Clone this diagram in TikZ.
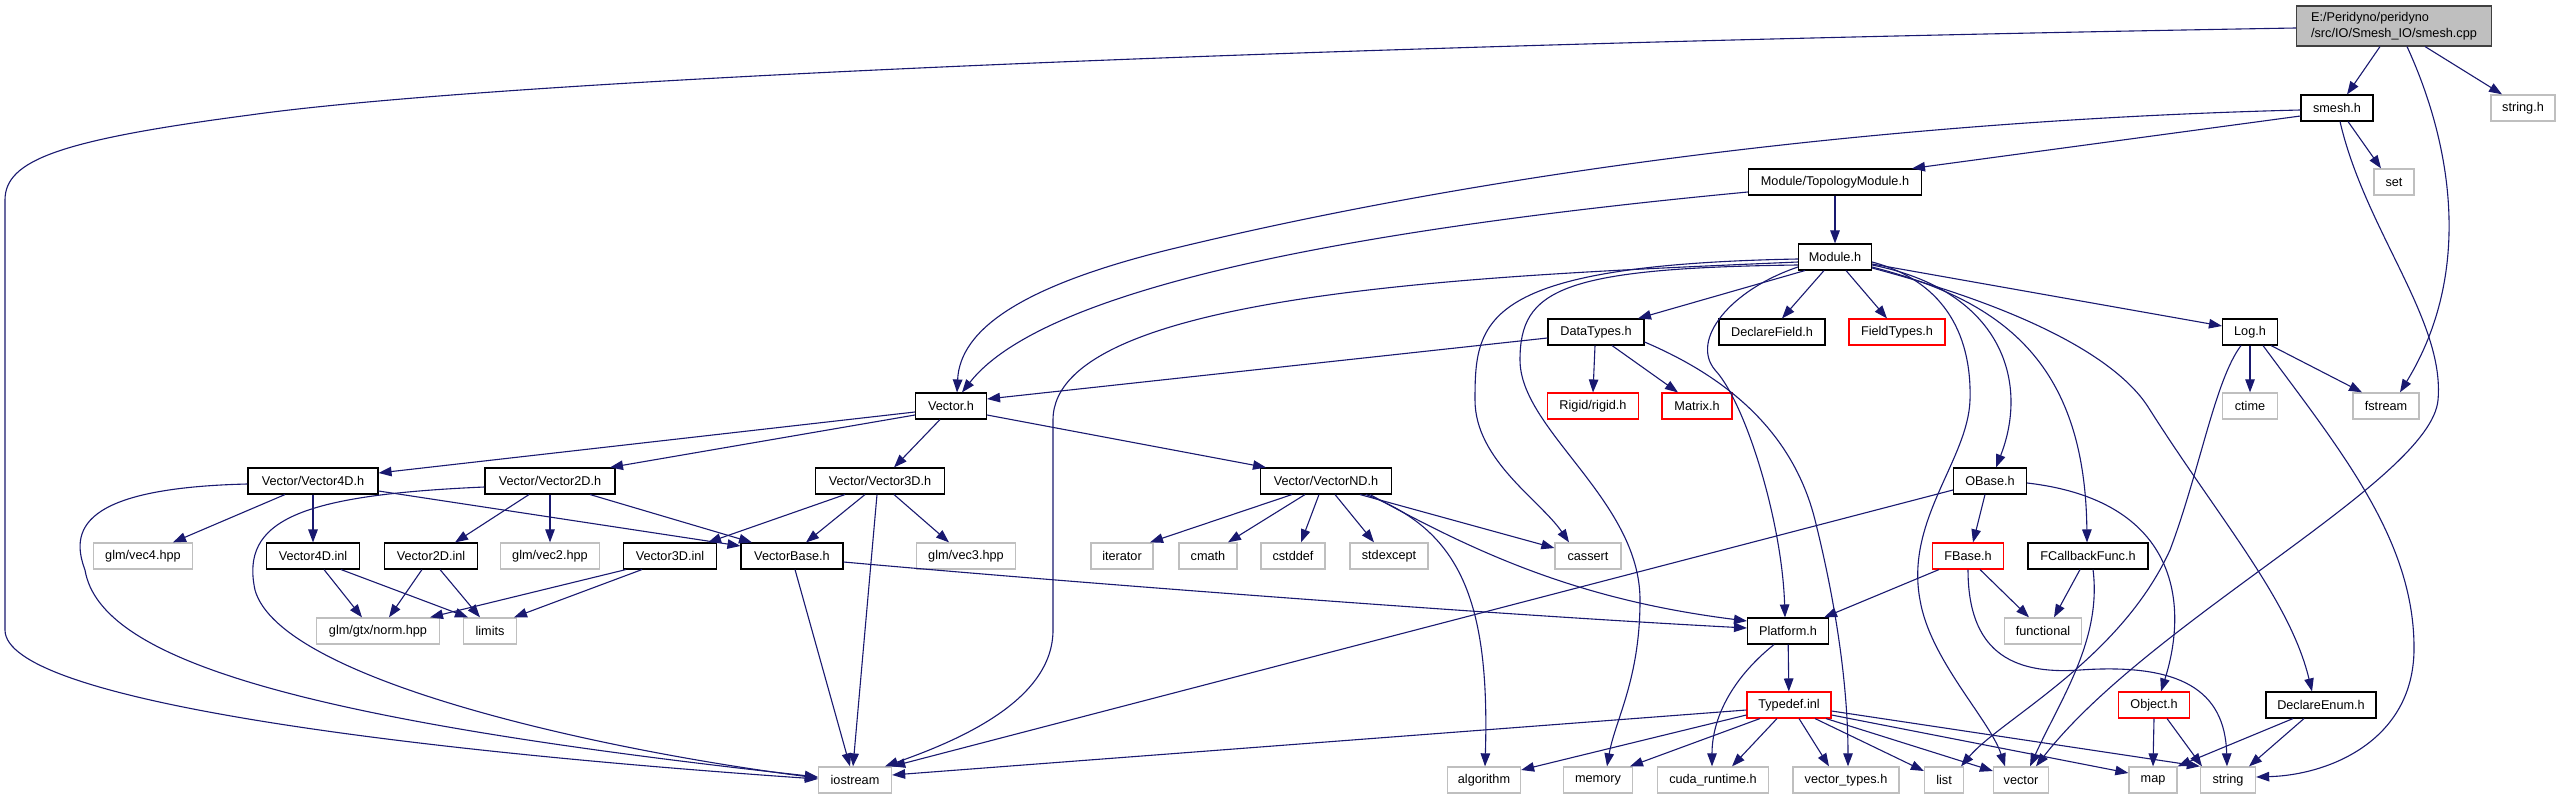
\documentclass[tikz,border=0pt]{standalone}
\usepackage{fontspec}
\setmainfont{Liberation Sans}
\usetikzlibrary{arrows.meta}
\definecolor{edgec}{HTML}{191970}
\definecolor{extc}{HTML}{BFBFBF}
\definecolor{mainfill}{HTML}{BFBFBF}
\definecolor{maindraw}{HTML}{404040}
\tikzset{
  box/.style={rectangle, inner sep=0pt, minimum height=26pt, fill=white, line width=1.1pt,
              font=\fontsize{12.7pt}{15.5pt}\selectfont},
  doc/.style={box, draw=black},
  ext/.style={box, draw=extc, line width=1.3pt},
  trunc/.style={box, draw=red},
  e/.style={draw=edgec, line width=1.1pt, -{Triangle[length=13pt,width=9.5pt]}},
}
\begin{document}
\begin{tikzpicture}[x=1pt,y=-1pt]
\useasboundingbox[fill=white] (0,0) rectangle (2561,799);
% nodes
\node[doc,minimum width=195pt,minimum height=40pt,fill=mainfill,draw=maindraw,align=left] (main) at (2394,26) {E:/Peridyno/peridyno\\/src/IO/Smesh\_IO/smesh.cpp};
\node[doc,minimum width=72pt] (smesh) at (2337,108) {smesh.h};
\node[ext,minimum width=64pt] (stringh) at (2523,108) {string.h};
\node[ext,minimum width=40pt] (set) at (2394,182) {set};
\node[doc,minimum width=173pt] (topo) at (1835,182) {Module/TopologyModule.h};
\node[doc,minimum width=73pt] (module) at (1835,257) {Module.h};
\node[doc,minimum width=96pt] (datatypes) at (1596,332) {DataTypes.h};
\node[doc,minimum width=106pt] (declfield) at (1772,332) {DeclareField.h};
\node[trunc,minimum width=96pt] (fieldtypes) at (1897,332) {FieldTypes.h};
\node[doc,minimum width=55pt] (log) at (2250,332) {Log.h};
\node[trunc,minimum width=91pt] (rigid) at (1593,406) {Rigid/rigid.h};
\node[trunc,minimum width=70pt] (matrix) at (1697,406) {Matrix.h};
\node[ext,minimum width=55pt] (ctime) at (2250,406) {ctime};
\node[ext,minimum width=66pt] (fstream) at (2386,406) {fstream};
\node[doc,minimum width=71pt] (vectorh) at (951,406) {Vector.h};
\node[doc,minimum width=130pt] (v4d) at (313,481) {Vector/Vector4D.h};
\node[doc,minimum width=130pt] (v2d) at (550,481) {Vector/Vector2D.h};
\node[doc,minimum width=129pt] (v3d) at (880,481) {Vector/Vector3D.h};
\node[doc,minimum width=131pt] (vnd) at (1326,481) {Vector/VectorND.h};
\node[doc,minimum width=73pt] (obase) at (1990,481) {OBase.h};
\node[ext,minimum width=99pt] (vec4) at (143,556) {glm/vec4.hpp};
\node[doc,minimum width=93pt] (v4inl) at (313,556) {Vector4D.inl};
\node[doc,minimum width=93pt] (v2inl) at (431,556) {Vector2D.inl};
\node[ext,minimum width=99pt] (vec2) at (550,556) {glm/vec2.hpp};
\node[doc,minimum width=93pt] (v3inl) at (670,556) {Vector3D.inl};
\node[doc,minimum width=102pt] (vbase) at (792,556) {VectorBase.h};
\node[ext,minimum width=99pt] (vec3) at (966,556) {glm/vec3.hpp};
\node[ext,minimum width=62pt] (iterator) at (1122,556) {iterator};
\node[ext,minimum width=58pt] (cmath) at (1208,556) {cmath};
\node[ext,minimum width=64pt] (cstddef) at (1293,556) {cstddef};
\node[ext,minimum width=78pt] (stdexcept) at (1389,556) {stdexcept};
\node[ext,minimum width=66pt] (cassert) at (1588,556) {cassert};
\node[trunc,minimum width=71pt] (fbase) at (1968,556) {FBase.h};
\node[doc,minimum width=120pt] (fcallback) at (2088,556) {FCallbackFunc.h};
\node[ext,minimum width=123pt] (norm) at (378,631) {glm/gtx/norm.hpp};
\node[ext,minimum width=53pt] (limits) at (490,631) {limits};
\node[doc,minimum width=81pt] (platform) at (1788,631) {Platform.h};
\node[ext,minimum width=77pt] (functional) at (2043,631) {functional};
\node[trunc,minimum width=84pt] (typedef) at (1789,705) {Typedef.inl};
\node[trunc,minimum width=71pt] (object) at (2154,705) {Object.h};
\node[doc,minimum width=110pt] (declenum) at (2321,705) {DeclareEnum.h};
\node[ext,minimum width=73pt] (iostream) at (855,780) {iostream};
\node[ext,minimum width=73pt] (algorithm) at (1484,780) {algorithm};
\node[ext,minimum width=69pt] (memory) at (1598,780) {memory};
\node[ext,minimum width=111pt] (cuda) at (1713,780) {cuda\_runtime.h};
\node[ext,minimum width=106pt] (vtypes) at (1846,780) {vector\_types.h};
\node[ext,minimum width=39pt] (list) at (1944,780) {list};
\node[ext,minimum width=55pt] (vectorstd) at (2021,780) {vector};
\node[ext,minimum width=48pt] (map) at (2153,780) {map};
\node[ext,minimum width=55pt] (string) at (2228,780) {string};
% edges from main
\draw[e] (main.west |- 0,28) .. controls (1300,45) and (500,80) .. (250,115) .. controls (60,140) and (5,160) .. (5,200) -- (5,630) .. controls (5,700) and (400,750) .. (iostream.west |- 0,779);
\draw[e] (main.south -| 2380,0) -- (smesh.north -| 2347,0);
\draw[e] (main.south -| 2425,0) -- (stringh.north -| 2502,0);
\draw[e] (main.south -| 2407,0) .. controls (2450,140) and (2475,270) .. (fstream.north -| 2400,0);
% smesh
\draw[e] (smesh.west |- 0,110) .. controls (1900,120) and (1500,170) .. (1180,247) .. controls (1020,285) and (960,330) .. (vectorh.north -| 957,0);
\draw[e] (smesh.west |- 0,116) -- (topo.north -| 1912,0);
\draw[e] (smesh.south -| 2348,0) -- (set.north -| 2381,0);
\draw[e] (smesh.south -| 2340,0) .. controls (2365,230) and (2445,320) .. (2438,400) .. controls (2431,480) and (2150,620) .. (vectorstd.north -| 2036,0);
% topology
\draw[e] (topo) -- (module);
\draw[e] (topo.west |- 0,192) .. controls (1400,225) and (1050,280) .. (vectorh.north -| 962,0);
% module
\draw[e] (module.south -| 1805,0) -- (datatypes.north -| 1638,0);
\draw[e] (module.south -| 1824,0) -- (declfield.north -| 1782,0);
\draw[e] (module.south -| 1846,0) -- (fieldtypes.north -| 1887,0);
\draw[e] (module.east |- 0,264) -- (log.west |- 0,326);
\draw[e] (module.west |- 0,262) .. controls (1500,275) and (1053,290) .. (1053,420) -- (1053,630) .. controls (1053,700) and (960,740) .. (iostream.north -| 885,0);
\draw[e] (module.west |- 0,259) .. controls (1480,265) and (1475,320) .. (1475,400) .. controls (1475,460) and (1540,500) .. (cassert.north -| 1569,0);
\draw[e] (module.west |- 0,265) .. controls (1560,268) and (1520,290) .. (1520,360) .. controls (1520,430) and (1640,500) .. (1640,600) .. controls (1640,680) and (1615,720) .. (memory.north -| 1607,0);
\draw[e] (module.west |- 0,267) .. controls (1730,290) and (1690,340) .. (1715,370) .. controls (1745,402) and (1782,520) .. (platform.north -| 1785,0);
\draw[e] (module.east |- 0,262) .. controls (1940,280) and (1972,330) .. (1970,400) .. controls (1968,460) and (1905,520) .. (1920,600) .. controls (1930,660) and (1990,720) .. (vectorstd.north -| 2005,0);
\draw[e] (module.east |- 0,265) .. controls (2000,290) and (2030,380) .. (obase.north -| 1996,0);
\draw[e] (module.east |- 0,267) .. controls (2000,300) and (2085,360) .. (fcallback.north -| 2087,0);
\draw[e] (module.east |- 0,268) .. controls (2030,310) and (2120,360) .. (2150,410) .. controls (2220,520) and (2290,600) .. (declenum.north -| 2312,0);
% datatypes
\draw[e] (datatypes.west |- 0,338) -- (vectorh.east |- 0,399);
\draw[e] (datatypes.south -| 1595,0) -- (rigid.north -| 1593,0);
\draw[e] (datatypes.south -| 1612,0) -- (matrix.north -| 1678,0);
\draw[e] (datatypes.east |- 0,342) .. controls (1710,370) and (1790,420) .. (1815,520) .. controls (1840,620) and (1848,700) .. (vtypes.north -| 1848,0);
% log
\draw[e] (log) -- (ctime);
\draw[e] (log.south -| 2271,0) -- (fstream.north -| 2362,0);
\draw[e] (log.south -| 2241,0) .. controls (2215,380) and (2200,470) .. (2170,550) .. controls (2120,660) and (2000,720) .. (list.north -| 1961,0);
\draw[e] (log.south -| 2263,0) .. controls (2340,450) and (2415,540) .. (2414,650) .. controls (2413,740) and (2330,775) .. (string.east |- 0,777);
% vector.h
\draw[e] (vectorh.west |- 0,412) -- (v4d.east |- 0,473);
\draw[e] (vectorh.west |- 0,415) -- (v2d.north -| 610,0);
\draw[e] (vectorh.south -| 940,0) -- (v3d.north -| 894,0);
\draw[e] (vectorh.east |- 0,415) -- (vnd.north -| 1266,0);
% vector4d / 2d
\draw[e] (v4d.west |- 0,484) .. controls (80,488) and (70,530) .. (85,570) .. controls (100,660) and (300,720) .. (iostream.west |- 0,777);
\draw[e] (v2d.west |- 0,487) .. controls (300,495) and (240,520) .. (255,590) .. controls (280,680) and (600,750) .. (iostream.west |- 0,778);
\draw[e] (v4d.south -| 285,0) -- (vec4.north -| 173,0);
\draw[e] (v4d.south -| 313,0) -- (v4inl.north -| 313,0);
\draw[e] (v4d.east |- 0,491) -- (vbase.west |- 0,546);
\draw[e] (v2d.south -| 529,0) -- (v2inl.north -| 455,0);
\draw[e] (v2d.south -| 550,0) -- (vec2.north -| 550,0);
\draw[e] (v2d.south -| 590,0) -- (vbase.north -| 752,0);
% inl files
\draw[e] (v4inl.south -| 324,0) -- (norm.north -| 362,0);
\draw[e] (v4inl.south -| 341,0) -- (limits.north -| 468,0);
\draw[e] (v2inl.south -| 422,0) -- (norm.north -| 389,0);
\draw[e] (v2inl.south -| 440,0) -- (limits.north -| 480,0);
\draw[e] (v3inl.south -| 626,0) -- (norm.north -| 430,0);
\draw[e] (v3inl.south -| 642,0) -- (limits.north -| 514,0);
% vectorbase
\draw[e] (vbase.south -| 795,0) -- (iostream.north -| 850,0);
\draw[e] (vbase.east |- 0,562) .. controls (1100,585) and (1500,615) .. (platform.west |- 0,628);
% vector3d
\draw[e] (v3d.south -| 877,0) -- (iostream.north -| 853,0);
\draw[e] (v3d.south -| 894,0) -- (vec3.north -| 949,0);
\draw[e] (v3d.south -| 845,0) -- (v3inl.north -| 708,0);
\draw[e] (v3d.south -| 865,0) -- (vbase.north -| 806,0);
% vectornd
\draw[e] (vnd.south -| 1292,0) -- (iterator.north -| 1150,0);
\draw[e] (vnd.south -| 1305,0) -- (cmath.north -| 1228,0);
\draw[e] (vnd.south -| 1319,0) -- (cstddef.north -| 1301,0);
\draw[e] (vnd.south -| 1335,0) -- (stdexcept.north -| 1374,0);
\draw[e] (vnd.south -| 1360,0) -- (cassert.west |- 0,548);
\draw[e] (vnd.south -| 1366,0) .. controls (1460,530) and (1490,600) .. (algorithm.north -| 1485,0);
\draw[e] (vnd.south -| 1370,0) .. controls (1480,555) and (1580,600) .. (platform.west |- 0,621);
% obase
\draw[e] (obase.west |- 0,490) -- (iostream.north east);
\draw[e] (obase.south -| 1985,0) -- (fbase.north -| 1973,0);
\draw[e] (obase.east |- 0,483) .. controls (2175,500) and (2190,600) .. (object.north -| 2161,0);
% fbase
\draw[e] (fbase.south -| 1939,0) -- (platform.north -| 1824,0);
\draw[e] (fbase.south -| 1980,0) -- (functional.north -| 2029,0);
\draw[e] (fbase.south -| 1968,0) .. controls (1968,650) and (2010,675) .. (2080,670) .. controls (2180,663) and (2225,690) .. (string.north -| 2227,0);
% fcallback
\draw[e] (fcallback.south -| 2080,0) -- (functional.north -| 2054,0);
\draw[e] (fcallback.south -| 2093,0) .. controls (2102,640) and (2060,700) .. (vectorstd.north -| 2030,0);
% platform
\draw[e] (platform) -- (typedef);
\draw[e] (platform.south -| 1774,0) .. controls (1730,680) and (1712,720) .. (cuda.north -| 1712,0);
% typedef
\draw[e] (typedef.west |- 0,710) -- (iostream.east |- 0,775);
\draw[e] (typedef.west |- 0,715) -- (algorithm.east |- 0,770);
\draw[e] (typedef.south -| 1760,0) -- (memory.north -| 1630,0);
\draw[e] (typedef.south -| 1777,0) -- (cuda.north -| 1732,0);
\draw[e] (typedef.south -| 1799,0) -- (vtypes.north -| 1829,0);
\draw[e] (typedef.south -| 1815,0) -- (list.west |- 0,771);
\draw[e] (typedef.south -| 1826,0) -- (vectorstd.west |- 0,771);
\draw[e] (typedef.east |- 0,715) -- (map.west |- 0,773);
\draw[e] (typedef.east |- 0,711) -- (string.north west);
% object / declareenum
\draw[e] (object.south -| 2154,0) -- (map.north -| 2153,0);
\draw[e] (object.south -| 2167,0) -- (string.north -| 2202,0);
\draw[e] (declenum.south -| 2293,0) -- (map.north east);
\draw[e] (declenum.south -| 2304,0) -- (string.north -| 2249,0);
\end{tikzpicture}
\end{document}
